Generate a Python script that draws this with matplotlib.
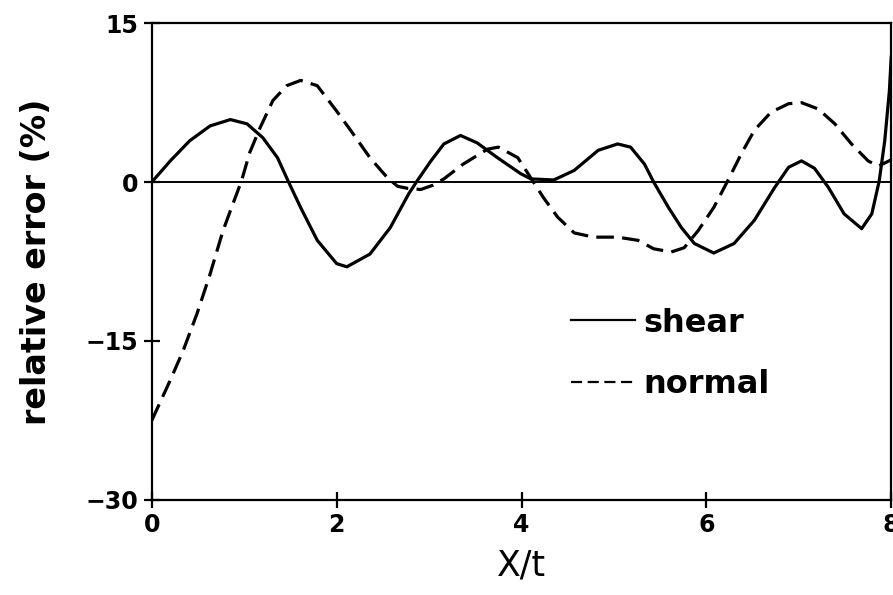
import matplotlib
matplotlib.use("Agg")
import matplotlib.pyplot as plt

# Values
shear_x = [0, 0.2, 0.41, 0.63, 0.85, 1.03, 1.2, 1.36, 1.48, 1.61, 1.79, 2.0,
           2.11, 2.36, 2.58, 2.78, 2.87, 3.02, 3.16, 3.34, 3.52, 3.74, 3.99,
           4.10, 4.35, 4.57, 4.83, 5.04, 5.18, 5.33, 5.43, 5.59, 5.73, 5.87,
           6.08, 6.30, 6.52, 6.74, 6.89, 7.03, 7.17, 7.32, 7.49, 7.68, 7.79,
           7.87, 7.93, 7.98, 8.0]
shear_y = [0, 2.0, 3.9, 5.3, 5.9, 5.5, 4.2, 2.3, 0, -2.4, -5.5, -7.7,
           -8.0, -6.8, -4.3, -1.1, 0.1, 2.0, 3.6, 4.4, 3.7, 2.3, 0.8,
           0.3, 0.2, 1.1, 3.0, 3.6, 3.3, 1.7, 0, -2.4, -4.3, -5.8,
           -6.7, -5.8, -3.6, -0.5, 1.4, 2.0, 1.3, -0.5, -3.0, -4.4, -3.0,
           0.1, 3.9, 8.6, 11.8]

normal_x = [0, 0.2, 0.34, 0.49, 0.63, 0.77, 0.88, 0.97, 1.06, 1.17, 1.31,
            1.46, 1.61, 1.79, 2.0, 2.15, 2.36, 2.55, 2.66, 2.77, 2.91, 3.04,
            3.16, 3.37, 3.63, 3.75, 3.96, 4.10, 4.24, 4.39, 4.57, 4.78, 5.04,
            5.26, 5.43, 5.62, 5.76, 5.91, 6.08, 6.23, 6.38, 6.52, 6.70, 6.89,
            7.03, 7.21, 7.39, 7.57, 7.75, 7.86, 8.0]
normal_y = [-22.5, -18.7, -15.9, -12.4, -8.7, -4.6, -2.0, 0.1, 2.8, 5.1, 7.7,
            9.1, 9.6, 9.1, 6.7, 4.9, 2.3, 0.4, -0.4, -0.6, -0.7, -0.3,
            0.3, 1.7, 3.1, 3.3, 2.3, 0.4, -1.5, -3.3, -4.8, -5.2, -5.2,
            -5.5, -6.3, -6.6, -6.2, -4.6, -2.4, 0.1, 2.7, 4.9, 6.6, 7.4,
            7.5, 6.9, 5.5, 3.6, 2.0, 1.5, 2.1]

x_ticks = [0, 2, 4, 6, 8]
y_ticks = [-30, -15, 0, 15]
y_tick_labels = ["\u221230", "\u221215", "0", "15"]

plt.rcParams.update({
    "font.family": "DejaVu Sans",
    "axes.linewidth": 1.6,
})

fig = plt.figure(figsize=(8.93, 5.95), dpi=100)
ax = fig.add_axes([0.170, 0.160, 0.828, 0.801])

ax.axhline(0, color="black", linewidth=1.4, zorder=1)
ax.plot(shear_x, shear_y, color="black", linewidth=2.3, label="shear")
ax.plot(normal_x, normal_y, color="black", linewidth=2.3, label="normal",
        dashes=(5.5, 2.6))

ax.set_xlim(0, 8)
ax.set_ylim(-30, 15)
ax.set_xticks(x_ticks)
ax.set_yticks(y_ticks)
ax.set_yticklabels(y_tick_labels)
ax.tick_params(direction="inout", length=11, width=1.6, labelsize=17, pad=4)
for lab in ax.get_xticklabels() + ax.get_yticklabels():
    lab.set_fontweight("bold")

ax.set_xlabel("X/t", fontsize=25, labelpad=8)
ax.set_ylabel("relative error (%)", fontsize=24, fontweight="bold", labelpad=24)

leg = ax.legend(loc="upper left", bbox_to_anchor=(0.55, 0.43), frameon=False,
                fontsize=23, handlelength=2.0, handletextpad=0.25,
                labelspacing=0.95, borderaxespad=0)
for t in leg.get_texts():
    t.set_fontweight("bold")
leg_lines = leg.get_lines()
leg_lines[0].set_linewidth(1.6)
leg_lines[1].set_linewidth(1.6)
leg_lines[1].set_dashes((5, 2.5))

fig.savefig("out.png", dpi=100)
